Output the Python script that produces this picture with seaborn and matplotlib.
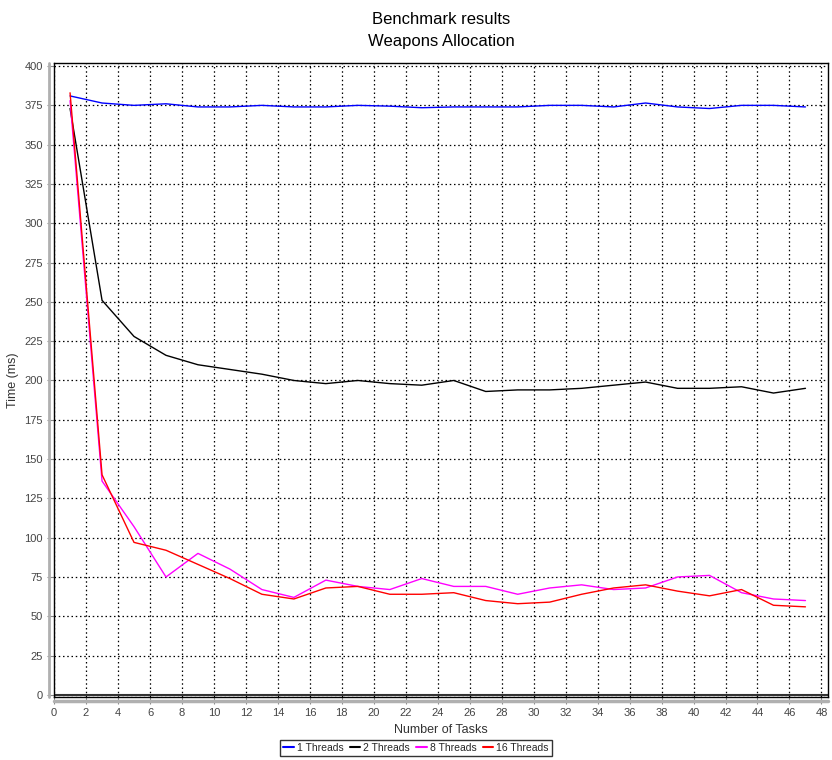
import numpy as np
import pandas as pd
import matplotlib
matplotlib.use("Agg")
import matplotlib.pyplot as plt
import seaborn as sns
from matplotlib.lines import Line2D

tasks = [1, 3, 5, 7, 9, 11, 13, 15, 17, 19, 21, 23, 25, 27, 29, 31, 33, 35, 37, 39, 41, 43, 45, 47]
t1 = [381, 376.5, 375, 376, 374, 374, 375, 374, 374, 375, 374.5, 373.5, 374, 374, 374, 375, 375, 374, 376.5, 374, 373, 375, 375, 374]
t2 = [373, 251, 228, 216, 210, 207, 204, 200, 198, 200, 198, 197, 200, 193, 194, 194, 195, 197, 199, 195, 195, 196, 192, 195]
t8 = [378, 136, 107, 75, 90, 80, 67, 62, 73, 69, 67, 74, 69, 69, 64, 68, 70, 67, 68, 75, 76, 65, 61, 60]
t16 = [383, 140, 97, 92, 83, 74, 64, 61, 68, 69, 64, 64, 65, 60, 58, 59, 64, 68, 70, 66, 63, 67, 57, 56]

series_names = ["1 Threads", "2 Threads", "8 Threads", "16 Threads"]
colors = ["#0000ff", "#000000", "#ff00ff", "#ff0000"]

df = pd.concat([
    pd.DataFrame({"tasks": tasks, "time": v, "series": n})
    for n, v in zip(series_names, [t1, t2, t8, t16])
])

sns.set_theme(style="white")
plt.rcParams['font.family'] = ['Liberation Sans', 'DejaVu Sans']

fig = plt.figure(figsize=(8.32, 7.6), dpi=100)
ax = fig.add_axes([0.065, 0.083, 0.930, 0.834])

sns.lineplot(data=df, x="tasks", y="time", hue="series", hue_order=series_names,
             palette=colors, ax=ax, linewidth=1.0, legend=False, estimator=None,
             sort=False)

ax.set_xlim(0, 48.4)
ax.set_ylim(-1.3, 401.9)
ax.set_xticks(np.arange(0, 49, 2))
ax.set_yticks(np.arange(0, 401, 25))
ax.tick_params(axis="both", labelsize=8, labelcolor="#444444", colors="#888888",
               length=5, width=0.8, direction="out", left=True, bottom=True, pad=3)
ax.grid(True, color="#000000", linestyle=(0, (1.2, 2.2)), linewidth=0.9)
for s in ax.spines.values():
    s.set_color("black")
    s.set_linewidth(1.0)
ax.axhline(0, color="#333333", linewidth=1.5, zorder=1)

# grey axis lines just outside the frame
ax.plot([-0.006, -0.006], [0, 1], transform=ax.transAxes, color="#b0b0b0",
        linewidth=2.0, clip_on=False)
ax.plot([0, 1], [-0.006, -0.006], transform=ax.transAxes, color="#b0b0b0",
        linewidth=2.5, clip_on=False)

ax.set_xlabel("Number of Tasks", fontsize=9, color="#333333", labelpad=4)
ax.set_ylabel("Time (ms)", fontsize=9, color="#333333", labelpad=4)
ax.set_title("Benchmark results\nWeapons Allocation", fontsize=12, color="black", pad=12,
             linespacing=1.65)

handles = [Line2D([0], [0], color=c, linewidth=1.5) for c in colors]
leg = fig.legend(handles, series_names, loc="center", bbox_to_anchor=(0.5, 0.016),
                 ncol=4, fontsize=7.5, frameon=True, fancybox=False, handlelength=1.0,
                 handletextpad=0.3, columnspacing=0.6, borderpad=0.3)
leg.get_frame().set_edgecolor("black")
leg.get_frame().set_linewidth(1.0)

fig.savefig("out.png", dpi=100)
